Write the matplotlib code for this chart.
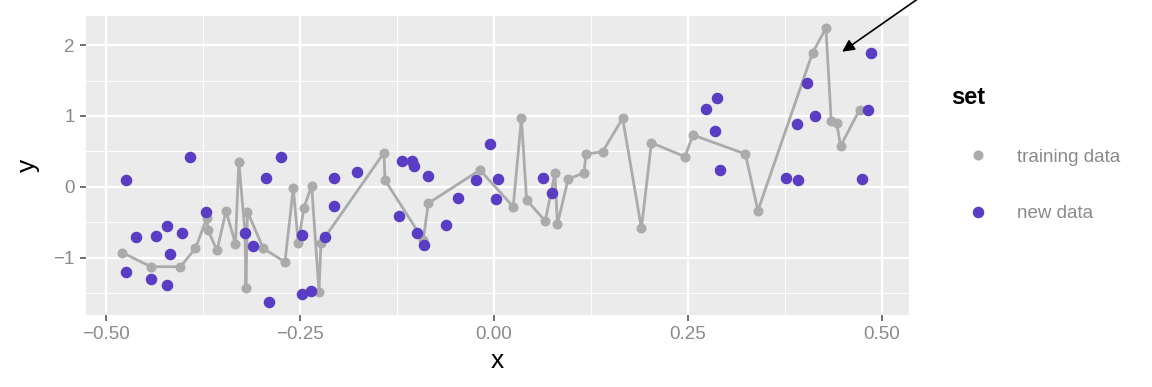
import numpy as np
import matplotlib
matplotlib.use('Agg')
import matplotlib.pyplot as plt

# training data (gray, joined by a line in x order)
train_x = [-0.4787, -0.4419, -0.4039, -0.3846, -0.3701, -0.3684, -0.3568, -0.3452,
           -0.3330, -0.3287, -0.3207, -0.3195, -0.3175, -0.2972, -0.2692, -0.2585,
           -0.2520, -0.2449, -0.2348, -0.2253, -0.2228, -0.1415, -0.1403, -0.0909,
           -0.0844, -0.0178, 0.0251, 0.0357, 0.0424, 0.0664, 0.0789, 0.0821,
           0.0960, 0.1163, 0.1189, 0.1404, 0.1662, 0.1904, 0.2033, 0.2465,
           0.2568, 0.3245, 0.3406, 0.4111, 0.4283, 0.4351, 0.4421, 0.4472, 0.4717]
train_y = [-0.932, -1.130, -1.130, -0.870, -0.446, -0.612, -0.901, -0.343,
           -0.806, 0.353, -0.640, -1.431, -0.353, -0.870, -1.064, -0.025,
           -0.799, -0.305, 0.017, -1.483, -0.795, 0.480, 0.095, -0.753,
           -0.234, 0.236, -0.282, 0.966, -0.188, -0.484, 0.189, -0.527,
           0.109, 0.194, 0.462, 0.494, 0.966, -0.588, 0.621, 0.424,
           0.730, 0.462, -0.339, 1.893, 2.237, 0.932, 0.904, 0.575, 1.088]

# new data (purple points)
new_x = [-0.4735, -0.3916, -0.4616, -0.4351, -0.4210, -0.4023, -0.4174, -0.4742,
         -0.4415, -0.4210, -0.3706, -0.3211, -0.3104, -0.2933, -0.2741, -0.2894,
         -0.2477, -0.2477, -0.2360, -0.2170, -0.2060, -0.2058, -0.1767, -0.1187,
         -0.1058, -0.1026, -0.0844, -0.1220, -0.0984, -0.0897, -0.0620, -0.0458,
         -0.0054, -0.0232, 0.0058, 0.0028, 0.0638, 0.0757, 0.2736, 0.2880,
         0.2848, 0.2920, 0.4042, 0.3913, 0.4141, 0.3767, 0.3925, 0.4863, 0.4828, 0.4743]
new_y = [0.095, 0.415, -0.706, -0.703, -0.562, -0.658, -0.951, -1.201,
         -1.308, -1.395, -0.362, -0.651, -0.838, 0.119, 0.415, -1.631,
         -0.689, -1.516, -1.469, -0.706, 0.119, -0.273, 0.208, 0.363,
         0.363, 0.295, 0.151, -0.414, -0.647, -0.828, -0.541, -0.157,
         0.599, 0.095, 0.109, -0.174, 0.123, -0.089, 1.097, 1.249,
         0.791, 0.236, 1.460, 0.886, 0.999, 0.119, 0.095, 1.893, 1.083, 0.109]

x_ticks = [-0.50, -0.25, 0.00, 0.25, 0.50]
x_labels = ['\u22120.50', '\u22120.25', '0.00', '0.25', '0.50']
y_ticks = [-1, 0, 1, 2]
y_labels = ['\u22121', '0', '1', '2']

gray = '#ABABAB'
purple = '#5B3CC4'
tick_col = '#8A8A8A'

plt.rcParams['font.family'] = ['Liberation Sans', 'DejaVu Sans']

fig = plt.figure(figsize=(11.52, 3.87), dpi=100)
ax = fig.add_axes([86 / 1152, 1 - 315 / 387, 823 / 1152, 299 / 387])
ax.set_facecolor('#EBEBEB')
for s in ax.spines.values():
    s.set_visible(False)

order = np.argsort(train_x)
tx = np.array(train_x)[order]
ty = np.array(train_y)[order]
ax.plot(tx, ty, color=gray, lw=2.0, marker='o', ms=6.2, mec=gray, mfc=gray,
        label='training data', zorder=3)
ax.plot(new_x, new_y, ls='none', marker='o', ms=7.3, color=purple, label='new data',
        zorder=4)

ax.set_xlim(-0.5257, 0.5354)
ax.set_ylim(-1.812, 2.411)
ax.set_xticks(x_ticks)
ax.set_xticklabels(x_labels)
ax.set_yticks(y_ticks)
ax.set_yticklabels(y_labels)
ax.set_xticks([-0.375, -0.125, 0.125, 0.375], minor=True)
ax.set_yticks([-1.5, -0.5, 0.5, 1.5], minor=True)
ax.grid(True, which='major', color='white', lw=1.6, zorder=0)
ax.grid(True, which='minor', color='white', lw=0.7, zorder=0)
ax.set_axisbelow(True)
ax.tick_params(which='major', length=4, width=1.2, color='#555555',
               labelcolor=tick_col, labelsize=13.5, pad=4)
ax.tick_params(which='minor', length=0)

ax.set_xlabel('x', fontsize=19, labelpad=4)
ax.set_ylabel('y', fontsize=19, labelpad=10)

# arrow pointing at the peak
ax.annotate('', xy=(0.4463, 1.884), xytext=(0.566, 2.80),
            arrowprops=dict(arrowstyle='-|>', color='black', lw=1.2,
                            mutation_scale=18),
            annotation_clip=False)

leg = ax.legend(loc='upper left', bbox_to_anchor=(944 / 1152, 1 - 79 / 387),
                bbox_transform=fig.transFigure, frameon=False, title='set',
                fontsize=13.5, handlelength=2.8, labelspacing=2.1,
                handletextpad=0.7, alignment='left', borderaxespad=0)
leg.get_title().set_fontweight('bold')
leg.get_title().set_fontsize(17)
for t in leg.get_texts():
    t.set_color(tick_col)
for h in leg.legend_handles:
    h.set_linestyle('none')

fig.savefig('out.png', dpi=100)
